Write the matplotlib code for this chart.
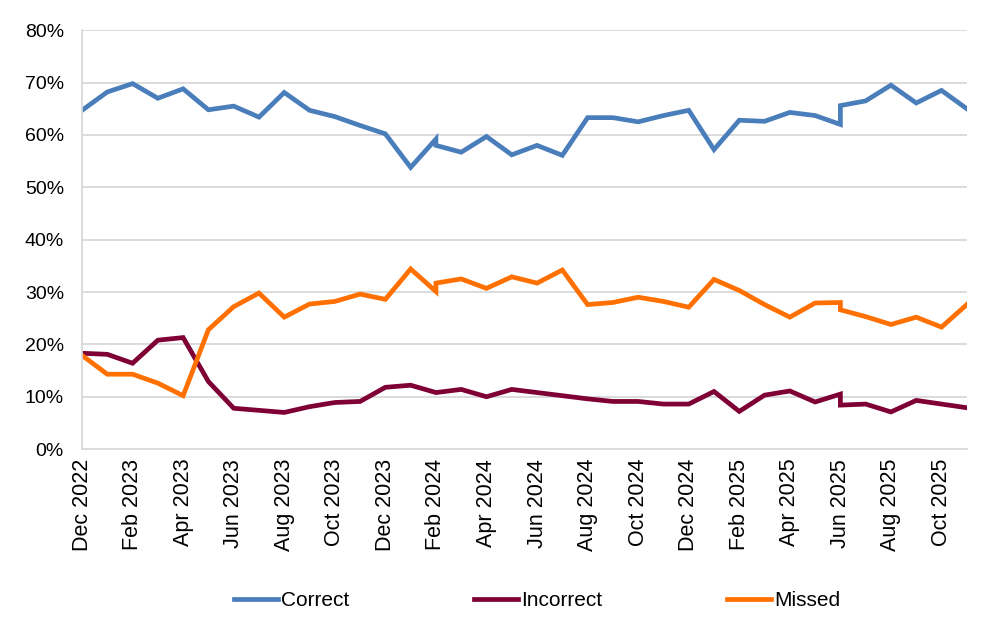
import matplotlib
matplotlib.use("Agg")
import matplotlib.pyplot as plt
from matplotlib.ticker import FuncFormatter

plt.rcParams['font.family'] = ['Liberation Sans', 'DejaVu Sans']

# month index 0 = Dec 2022; Feb 2024 (14) and Jun 2025 (30) appear twice
months = [0, 1, 2, 3, 4, 5, 6, 7, 8, 9, 10, 11, 12, 13, 14, 14, 15, 16, 17, 18,
          19, 20, 21, 22, 23, 24, 25, 26, 27, 28, 29, 30, 30, 31, 32, 33, 34, 35]

correct = [64.7, 68.2, 69.8, 67.0, 68.8, 64.8, 65.5, 63.4, 68.1, 64.7, 63.5, 61.8,
           60.2, 53.8, 59.2, 58.0, 56.7, 59.7, 56.2, 58.0, 56.1, 63.3, 63.3, 62.5,
           63.7, 64.7, 57.2, 62.8, 62.6, 64.3, 63.7, 62.0, 65.6, 66.5, 69.5, 66.1,
           68.5, 65.0]
incorrect = [18.3, 18.1, 16.4, 20.8, 21.3, 12.9, 7.8, 7.4, 7.0, 8.1, 8.9, 9.1,
             11.8, 12.2, 10.8, 10.8, 11.4, 10.0, 11.4, 10.8, 10.2, 9.6, 9.1, 9.1,
             8.6, 8.6, 11.0, 7.2, 10.3, 11.1, 9.0, 10.5, 8.4, 8.6, 7.1, 9.3,
             8.6, 7.9]
missed = [17.9, 14.3, 14.3, 12.6, 10.2, 22.8, 27.2, 29.8, 25.2, 27.7, 28.2, 29.6,
          28.6, 34.4, 30.1, 31.7, 32.5, 30.7, 32.9, 31.7, 34.2, 27.6, 28.0, 29.0,
          28.2, 27.1, 32.4, 30.3, 27.6, 25.2, 27.9, 28.0, 26.6, 25.3, 23.8, 25.2,
          23.3, 27.6]

tick_pos = list(range(0, 36, 2))
tick_labels = ["Dec 2022", "Feb 2023", "Apr 2023", "Jun 2023", "Aug 2023", "Oct 2023",
               "Dec 2023", "Feb 2024", "Apr 2024", "Jun 2024", "Aug 2024", "Oct 2024",
               "Dec 2024", "Feb 2025", "Apr 2025", "Jun 2025", "Aug 2025", "Oct 2025"]

fig = plt.figure(figsize=(9.93, 6.29), dpi=100)
ax = fig.add_axes([0.0826, 0.286, 0.891, 0.666])

ax.plot(months, correct, color='#4A7EBB', lw=3.4, label='Correct', solid_joinstyle='miter')
ax.plot(months, incorrect, color='#7F0034', lw=3.4, label='Incorrect', solid_joinstyle='miter')
ax.plot(months, missed, color='#FF7000', lw=3.4, label='Missed', solid_joinstyle='miter')

ax.set_xlim(0, 35)
ax.set_ylim(0, 80)
ax.set_yticks(range(0, 81, 10))
ax.yaxis.set_major_formatter(FuncFormatter(lambda v, p: f"{v:.0f}%"))
ax.set_xticks(tick_pos)
ax.set_xticklabels(tick_labels, rotation=90)
ax.tick_params(axis='both', length=0, colors='black')
ax.tick_params(axis='x', pad=7, labelsize=15.5)
ax.tick_params(axis='y', pad=13, labelsize=14)

ax.grid(axis='y', color='#D9D9D9', lw=1.3)
ax.set_axisbelow(True)
for s in ['top', 'right']:
    ax.spines[s].set_visible(False)
ax.spines['left'].set_color('#D9D9D9')
ax.spines['bottom'].set_color('#D9D9D9')
ax.spines['left'].set_linewidth(1.3)
ax.spines['bottom'].set_linewidth(1.3)

fig.legend(loc='center', bbox_to_anchor=(0.541, 0.045), ncol=3, frameon=False,
           fontsize=15, handlelength=2.1, columnspacing=6.0, handletextpad=0.15)

fig.savefig("out.png", dpi=100)
